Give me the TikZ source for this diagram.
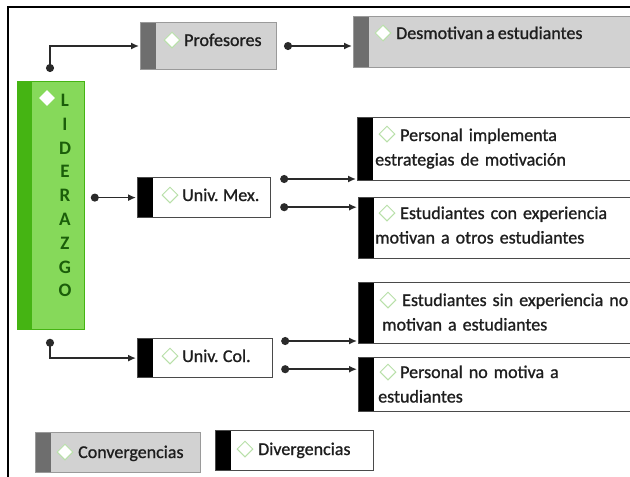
\documentclass[tikz,border=0pt]{standalone}
\usepackage{fontspec}
\setmainfont{Carlito}
\newfontfamily\txtfont{Carlito}[FakeBold=1,WordSpace=0.75]
\usetikzlibrary{shapes.geometric,arrows.meta,calc}
\definecolor{lgreen}{HTML}{86D95A}
\definecolor{dgreen}{HTML}{45B413}
\definecolor{tgreen}{HTML}{1B5E0A}
\definecolor{gfill}{HTML}{D2D2D2}
\definecolor{gstripe}{HTML}{6E6E6E}
\definecolor{gborder}{HTML}{9A9A9A}
\definecolor{dmd}{HTML}{B8E0A8}
\definecolor{txt}{HTML}{1E1E1E}
\definecolor{ln}{HTML}{2A2A2A}
\begin{document}
\begin{tikzpicture}[x=1pt,y=-1pt,
  boxbase/.style={anchor=north west, inner sep=0, rectangle},
  convbox/.style={boxbase, draw=gborder, fill=gfill, line width=1pt,
    path picture={\fill[gstripe] (path picture bounding box.north west) rectangle ([xshift=15pt]path picture bounding box.south west);}},
  divbox/.style={boxbase, draw=ln!85, fill=white, line width=1.2pt,
    path picture={\fill[black] (path picture bounding box.north west) rectangle ([xshift=15pt]path picture bounding box.south west);}},
  lidbox/.style={boxbase, draw=dgreen, fill=lgreen, line width=0.8pt,
    path picture={\fill[dgreen] (path picture bounding box.north west) rectangle ([xshift=15pt]path picture bounding box.south west);}},
  dmdnode/.style={diamond, aspect=1, minimum size=16pt, inner sep=0, draw=dmd, fill=white, line width=1pt},
  txtnode/.style={inner sep=0, text=txt, font=\txtfont\fontsize{18}{24.5}\selectfont},
  multitxt/.style={txtnode, text width=262pt, align=left, anchor=base west},
  conn/.style={draw=ln, line width=1.5pt, {Circle[length=8pt]}-{Latex[length=8pt,width=7pt]}},
  frameline/.style={draw=black, line width=2pt}
]
\useasboundingbox (0,0) rectangle (630,477);
\fill[white] (0,0) rectangle (630,477);
\draw[frameline] (8,477) -- (8,7) -- (631,7);

% LIDERAZGO
\node[lidbox, minimum width=67pt, minimum height=248pt] (lid) at (17,81) {};
\node[diamond, aspect=1, minimum size=16pt, inner sep=0, fill=white] (lidD) at (47,98) {};
\node[inner sep=0, text=tgreen, font=\bfseries\fontsize{19}{23.8}\selectfont, text width=20pt, align=center, anchor=base] (lidT) at (65,106.5) {L\\I\\D\\E\\R\\A\\Z\\G\\O};

% Profesores
\node[convbox, minimum width=136pt, minimum height=47pt] (prof) at (140,22) {};
\node[dmdnode] (profD) at (172,40) {};
\node[txtnode, anchor=base west] (profT) at (184,46) {Profesores};

% Desmotivan
\node[convbox, minimum width=290pt, minimum height=51pt] (desm) at (353,16) {};
\node[dmdnode] (desmD) at (383,33) {};
\node[txtnode, anchor=base west] (desmT) at (396,39) {Desmotivan a estudiantes};

% Univ. Mex.
\node[divbox, minimum width=133pt, minimum height=40pt] (umex) at (137,177) {};
\node[dmdnode] (umexD) at (170,195) {};
\node[txtnode, anchor=base west] (umexT) at (182,201) {Univ. Mex.};

% Personal implementa
\node[divbox, minimum width=290pt, minimum height=63pt] (pimp) at (357,117) {};
\node[dmdnode] (pimpD) at (387,134) {};
\node[multitxt] (pimpT) at (375,141) {\hspace*{25pt}Personal implementa\\estrategias de motivación};

% Estudiantes con experiencia
\node[divbox, minimum width=290pt, minimum height=61pt] (econ) at (358,197) {};
\node[dmdnode] (econD) at (387,213) {};
\node[multitxt] (econT) at (375,219) {\hspace*{25pt}Estudiantes con experiencia\\motivan a otros estudiantes};

% Estudiantes sin experiencia
\node[divbox, minimum width=290pt, minimum height=61pt] (esin) at (358,282) {};
\node[dmdnode] (esinD) at (388,300) {};
\node[multitxt] (esinT) at (382,306) {\hspace*{20pt}Estudiantes sin experiencia no\\motivan a estudiantes};

% Personal no motiva
\node[divbox, minimum width=290pt, minimum height=54pt] (pno) at (358,357) {};
\node[dmdnode] (pnoD) at (388,372) {};
\node[multitxt] (pnoT) at (378,378) {\hspace*{22pt}Personal no motiva a\\estudiantes};

% Univ. Col.
\node[divbox, minimum width=135pt, minimum height=39pt] (ucol) at (137,338) {};
\node[dmdnode] (ucolD) at (170,356) {};
\node[txtnode, anchor=base west] (ucolT) at (182,362) {Univ. Col.};

% Legend
\node[convbox, minimum width=165pt, minimum height=40pt] (conv) at (35,432) {};
\node[dmdnode] (convD) at (65,452) {};
\node[txtnode, anchor=base west] (convT) at (78,458) {Convergencias};
\node[divbox, minimum width=158pt, minimum height=40pt] (div) at (215,430) {};
\node[dmdnode] (divD) at (245,449) {};
\node[txtnode, anchor=base west] (divT) at (258,455) {Divergencias};

% Connectors
\draw[conn] ($(lid.north west)+(33,-9)$) |- ($(prof.west)+(-1,0)$);
\draw[conn] ($(prof.east)+(7,0)$) -- ($(desm.west |- prof.east)+(-1,0)$);
\draw[conn] ($(lid.east |- umex.west)+(6,0)$) -- ($(umex.west)+(-1,0)$);
\draw[conn] ($(umex.north east)+(9,2)$) -- ($(pimp.west |- umex.north east)+(-1,2)$);
\draw[conn] ($(umex.south east)+(9,-11)$) -- ($(econ.west |- umex.south east)+(-1,-11)$);
\draw[conn] ($(lid.south west)+(33,9)$) |- ($(ucol.west)+(-1,0)$);
\draw[conn] ($(ucol.north east)+(8,3)$) -- ($(esin.west |- ucol.north east)+(-1,3)$);
\draw[conn] ($(ucol.south east)+(8,-9)$) -- ($(pno.west |- ucol.south east)+(-1,-9)$);
\end{tikzpicture}
\end{document}
